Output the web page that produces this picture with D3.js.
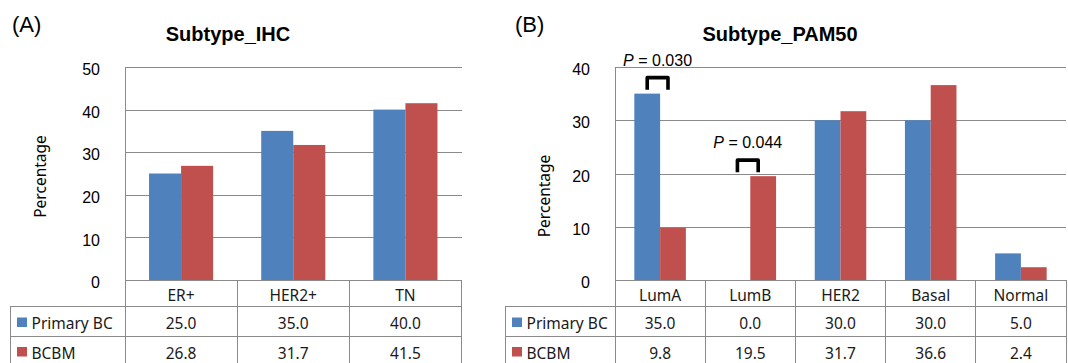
<!DOCTYPE html>
<html>
<head>
<meta charset="utf-8">
<script src="https://cdn.jsdelivr.net/npm/d3@7"></script>
<style>
  body { margin: 0; background: #fff; }
  svg { display: block; }
</style>
</head>
<body>
<script>
// data
const seriesNames = ["Primary BC", "BCBM"];
const seriesColors = ["#4F81BD", "#C0504D"];

const ihcCategories = ["ER+", "HER2+", "TN"];
const ihcPrimary = [25.0, 35.0, 40.0];
const ihcBcbm = [26.8, 31.7, 41.5];
const ihcTicks = [0, 10, 20, 30, 40, 50];

const pamCategories = ["LumA", "LumB", "HER2", "Basal", "Normal"];
const pamPrimary = [35.0, 0.0, 30.0, 30.0, 5.0];
const pamBcbm = [9.8, 19.5, 31.7, 36.6, 2.4];
const pamTicks = [0, 10, 20, 30, 40];

const pCategories = ["LumA", "LumB"];
const pValues = ["0.030", "0.044"];

const W = 1068, H = 363;
const gridColor = "#8a8a8a";
const tableFont = "'Noto Sans', 'DejaVu Sans', sans-serif";
const arial = "'Liberation Sans', Arial, sans-serif";

const svg = d3.select("body").append("svg")
  .attr("width", W)
  .attr("height", H)
  .attr("viewBox", [0, 0, W, H]);

function panel(opt) {
  const g = svg.append("g");
  const top = 67, bottom = 280;
  const rowTops = [bottom, 306.5, 336, 366];

  const x0 = d3.scaleBand().domain(opt.categories).range([opt.left, opt.right]).paddingInner(0).paddingOuter(0);
  const x1 = d3.scaleBand().domain(seriesNames).range([0, x0.bandwidth()]).paddingInner(0).paddingOuter(0.75);
  const y = d3.scaleLinear().domain([0, d3.max(opt.ticks)]).range([bottom, top]);

  // panel letter + title
  g.append("text")
    .attr("x", opt.letterX).attr("y", 32)
    .style("font-family", arial).style("font-size", "22px")
    .text(opt.letter);
  g.append("text")
    .attr("x", opt.titleX).attr("y", 41)
    .attr("text-anchor", "middle")
    .style("font-family", arial).style("font-size", "20px").style("font-weight", "bold")
    .text(opt.title);

  // y axis with gridlines
  const yAxis = g.append("g")
    .attr("transform", `translate(${opt.left},0)`)
    .call(d3.axisLeft(y).tickValues(opt.ticks).tickSize(-(opt.right - opt.left)).tickPadding(25).tickSizeOuter(0));
  yAxis.select(".domain").remove();
  yAxis.selectAll(".tick line").attr("stroke", gridColor).attr("shape-rendering", "crispEdges");
  yAxis.selectAll(".tick text")
    .attr("dy", "0.48em")
    .style("font-family", arial).style("font-size", "16px").attr("fill", "#000");

  g.append("text")
    .attr("transform", `translate(${opt.labelX},${opt.labelY}) rotate(-90)`)
    .attr("text-anchor", "middle")
    .attr("dy", "0.35em")
    .style("font-family", tableFont).style("font-size", "15.5px")
    .text("Percentage");

  // bars
  const rows = opt.categories.map((c, i) => ({ cat: c, vals: [opt.primary[i], opt.bcbm[i]] }));
  const grp = g.selectAll(".grp").data(rows).enter().append("g")
    .attr("transform", d => `translate(${x0(d.cat)},0)`);
  grp.selectAll("rect")
    .data(d => d.vals.map((v, k) => ({ s: seriesNames[k], v: v, k: k })))
    .enter().append("rect")
    .attr("x", d => x1(d.s))
    .attr("width", x1.bandwidth())
    .attr("y", d => y(d.v))
    .attr("height", d => y(0) - y(d.v))
    .attr("fill", d => seriesColors[d.k]);

  // table lines
  const lines = g.append("g").attr("stroke", gridColor).attr("shape-rendering", "crispEdges");
  lines.append("line").attr("x1", opt.left).attr("x2", opt.left).attr("y1", top).attr("y2", H + 5);
  lines.append("line").attr("x1", opt.legendLeft).attr("x2", opt.legendLeft).attr("y1", rowTops[1]).attr("y2", H + 5);
  opt.categories.forEach(c => {
    const xx = x0(c) + x0.bandwidth();
    lines.append("line").attr("x1", xx).attr("x2", xx).attr("y1", bottom).attr("y2", H + 5);
  });
  lines.append("line").attr("x1", opt.left).attr("x2", opt.right).attr("y1", bottom).attr("y2", bottom);
  [rowTops[1], rowTops[2]].forEach(yy => {
    lines.append("line").attr("x1", opt.legendLeft).attr("x2", opt.right).attr("y1", yy).attr("y2", yy);
  });

  // table text
  const tt = g.append("g").style("font-family", tableFont).style("font-size", "15.5px").attr("fill", "#1a1a1a");
  opt.categories.forEach(c => {
    tt.append("text").attr("x", x0(c) + x0.bandwidth() / 2).attr("y", rowTops[0] + 21)
      .attr("text-anchor", "middle").text(c);
  });
  [opt.primary, opt.bcbm].forEach((vals, k) => {
    const base = rowTops[k + 1] + 22.5;
    tt.append("rect")
      .attr("x", opt.legendLeft + 7).attr("y", base - 11.5)
      .attr("width", 10).attr("height", 9.5)
      .attr("fill", seriesColors[k]);
    tt.append("text").attr("x", opt.legendLeft + 21.5).attr("y", base).text(seriesNames[k]);
    vals.forEach((v, i) => {
      tt.append("text").attr("x", x0(opt.categories[i]) + x0.bandwidth() / 2).attr("y", base)
        .attr("text-anchor", "middle").text(v.toFixed(1));
    });
  });

  return { x0, x1, y, g };
}

panel({
  letter: "(A)", letterX: 12,
  title: "Subtype_IHC", titleX: 228,
  categories: ihcCategories, primary: ihcPrimary, bcbm: ihcBcbm, ticks: ihcTicks,
  left: 125, right: 461.5, legendLeft: 10,
  labelX: 41, labelY: 176.5
});

const pam = panel({
  letter: "(B)", letterX: 515,
  title: "Subtype_PAM50", titleX: 780,
  categories: pamCategories, primary: pamPrimary, bcbm: pamBcbm, ticks: pamTicks,
  left: 615, right: 1066, legendLeft: 505,
  labelX: 545, labelY: 196
});

// p-value brackets
pCategories.forEach((c, i) => {
  const k = pamCategories.indexOf(c);
  const xa = pam.x0(c) + pam.x1(seriesNames[0]) + pam.x1.bandwidth() / 2;
  const xb = pam.x0(c) + pam.x1(seriesNames[1]) + pam.x1.bandwidth() / 2 - 5;
  const yb = pam.y(Math.max(pamPrimary[k], pamBcbm[k])) - 4;
  const yt = yb - 12;
  pam.g.append("path")
    .attr("d", `M${xa},${yb}V${yt}H${xb}V${yb}`)
    .attr("fill", "none").attr("stroke", "#000").attr("stroke-width", 3.6)
    .attr("stroke-linejoin", "round");
  const t = pam.g.append("text")
    .attr("x", (xa + xb) / 2).attr("y", yt - 12)
    .attr("text-anchor", "middle")
    .style("font-family", arial).style("font-size", "16px");
  t.append("tspan").style("font-style", "italic").text("P");
  t.append("tspan").text(" = " + pValues[i]);
});
</script>
</body>
</html>
